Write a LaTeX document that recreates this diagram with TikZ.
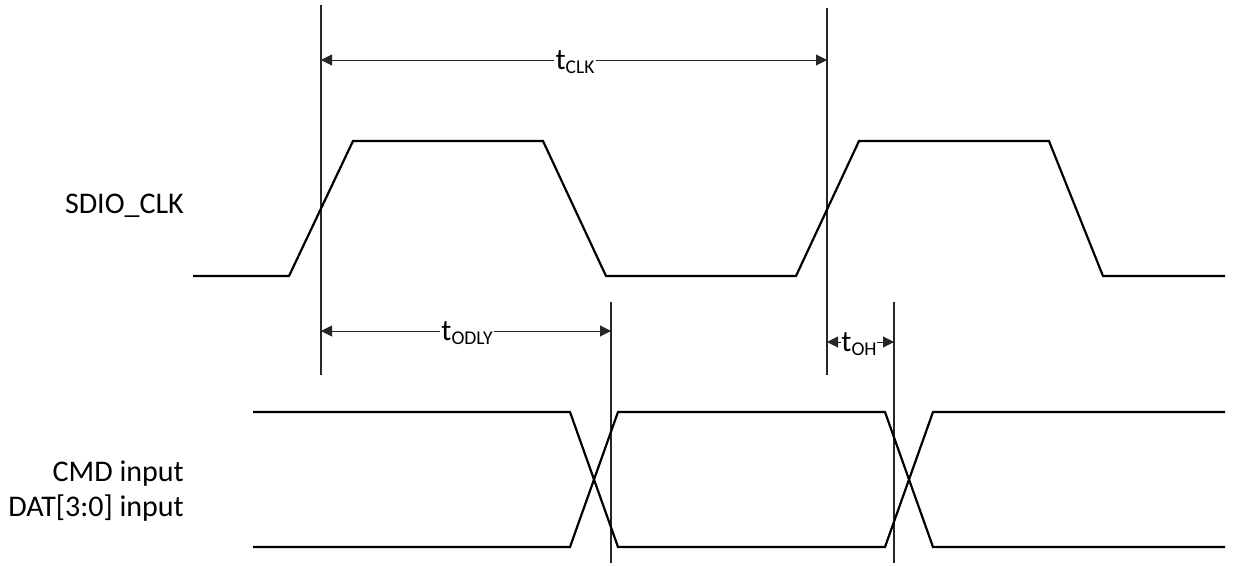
\documentclass[tikz,border=0pt]{standalone}
\usepackage{fontspec}
\setmainfont{Carlito}
\usetikzlibrary{arrows.meta}
\tikzset{
  wave/.style={line width=2.2pt, line join=miter, black},
  guide/.style={line width=1.1pt, black!85},
  dim/.style={line width=1pt, black!85, {Triangle[length=11pt,width=11pt]}-{Triangle[length=11pt,width=11pt]}},
  siglabel/.style={anchor=base east, inner sep=0pt, font=\fontsize{30}{35}\selectfont, text=black},
  tlabel/.style={fill=white, inner xsep=1.5pt, inner ysep=0pt, anchor=base, font=\fontsize{30}{35}\selectfont, text=black}
}
\newcommand{\tsub}[1]{t\raisebox{-4pt}{\fontsize{19.5}{22}\selectfont #1}}
\begin{document}
\begin{tikzpicture}[x=1pt,y=-1pt]
\useasboundingbox (0,0) rectangle (1234,565);

% guide lines
\coordinate (v1t) at (321,5);   \coordinate (v1b) at (321,375);
\coordinate (v2t) at (827,8);   \coordinate (v2b) at (827,375);
\coordinate (v3t) at (611,302); \coordinate (v3b) at (611,563);
\coordinate (v4t) at (894,302); \coordinate (v4b) at (894,563);
\draw[guide] (v1t) -- (v1b);
\draw[guide] (v2t) -- (v2b);
\draw[guide] (v3t) -- (v3b);
\draw[guide] (v4t) -- (v4b);

% clock
\draw[wave] (193,276) -- (289,276) -- (353,141) -- (543,141) -- (606,276) -- (796,276)
  -- (859,141) -- (1049,141) -- (1103,276) -- (1225,276);

% data
\draw[wave] (253,412) -- (570,412) -- (618,547) -- (885,547) -- (933,412) -- (1225,412);
\draw[wave] (253,547) -- (570,547) -- (618,412) -- (885,412) -- (933,547) -- (1225,547);

% dimension arrows
\coordinate (a1l) at (321,60);  \coordinate (a1r) at (827,60);
\coordinate (a2l) at (321,331); \coordinate (a2r) at (611,331);
\coordinate (a3l) at (827,342); \coordinate (a3r) at (894,342);
\draw[dim] (a1l) -- (a1r);
\draw[dim] (a2l) -- (a2r);
\draw[dim] (a3l) -- (a3r);
\node[tlabel] (tclk) at (575,69) {\tsub{CLK}};
\node[tlabel] (todly) at (467,340) {\tsub{ODLY}};
\node[tlabel, inner xsep=0.5pt] (toh) at (859,351) {\tsub{OH}};

% signal names
\node[siglabel] (clk) at (184,213) {SDIO\_CLK};
\node[siglabel] (cmd) at (184,481) {CMD input};
\node[siglabel] (dat) at (184,516) {DAT[3:0] input};
\end{tikzpicture}
\end{document}
